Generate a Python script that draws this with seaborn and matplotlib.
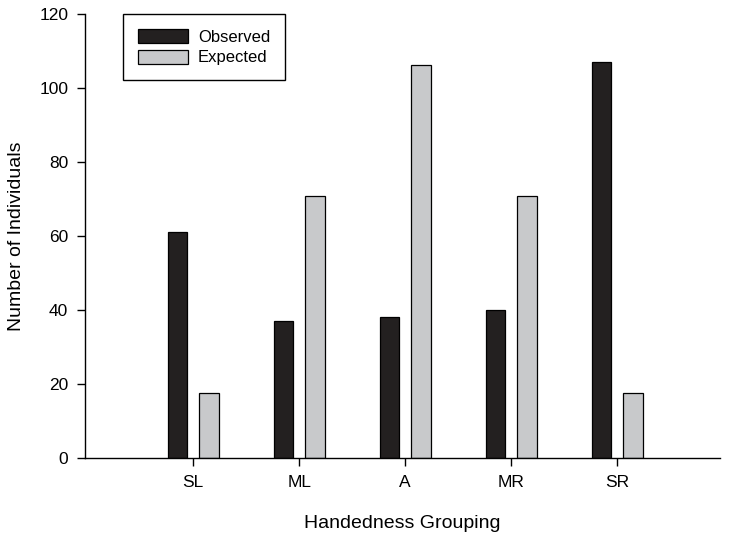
import pandas as pd
import matplotlib.pyplot as plt
import seaborn as sns

# Data

groups = ['SL', 'ML', 'A', 'MR', 'SR']
observed = [61, 37, 38, 40, 107]
expected = [17.7, 70.8, 106.1, 70.8, 17.7]

d = pd.DataFrame({
    'group': groups * 2,
    'count': observed + expected,
    'kind': ['Observed'] * len(groups) + ['Expected'] * len(groups),
})

# Plot

sns.set_style('ticks')
plt.rcParams['font.family'] = ['Liberation Sans', 'DejaVu Sans']
plt.rcParams['text.color'] = 'black'
plt.rcParams['axes.labelcolor'] = 'black'

fig = plt.figure(figsize = (7.29, 5.39), dpi = 100)
ax = fig.add_axes([0.1166, 0.1503, 0.871, 0.8237])

sns.barplot(data = d, x = 'group', y = 'count', hue = 'kind', order = groups,
            hue_order = ['Observed', 'Expected'],
            palette = {'Observed': '#231f20', 'Expected': '#c8c9cb'},
            width = 0.6, gap = 0.4, edgecolor = 'black', linewidth = 0.9,
            errorbar = None, ax = ax)

ax.set_xlim(-1.02, 4.97)
ax.set_ylim(0, 120)
ax.set_yticks(range(0, 121, 20))

sns.despine(ax = ax)
for s in ['left', 'bottom']:
    ax.spines[s].set_linewidth(1.0)
    ax.spines[s].set_color('black')

ax.tick_params(axis = 'both', direction = 'out', length = 6, width = 1,
               labelsize = 12.5, colors = 'black', pad = 6)

ax.set_xlabel('Handedness Grouping', fontsize = 14, labelpad = 18)
ax.set_ylabel('Number of Individuals', fontsize = 14, labelpad = 10)

leg = ax.legend(loc = 'upper left', bbox_to_anchor = (0.06, 1.0),
                borderaxespad = 0, fancybox = False, edgecolor = 'black',
                fontsize = 12, handlelength = 3.0, handleheight = 0.9,
                handletextpad = 0.6, borderpad = 0.9, labelspacing = 0.3,
                framealpha = 1)
leg.get_frame().set_linewidth(1.0)

plt.savefig('out.png', dpi = 100)
